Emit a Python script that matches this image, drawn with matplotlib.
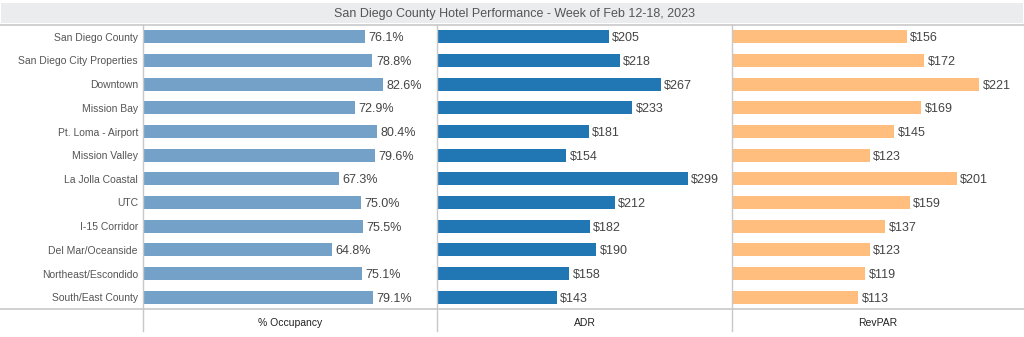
import numpy as np
import matplotlib
matplotlib.use("Agg")
import matplotlib.pyplot as plt
from matplotlib.lines import Line2D
from matplotlib.patches import Rectangle

plt.rcParams["font.family"] = ["Liberation Sans", "DejaVu Sans"]

regions = ["San Diego County", "San Diego City Properties", "Downtown", "Mission Bay",
           "Pt. Loma - Airport", "Mission Valley", "La Jolla Coastal", "UTC",
           "I-15 Corridor", "Del Mar/Oceanside", "Northeast/Escondido", "South/East County"]
occupancy = [76.1, 78.8, 82.6, 72.9, 80.4, 79.6, 67.3, 75.0, 75.5, 64.8, 75.1, 79.1]
adr = [205, 218, 267, 233, 181, 154, 299, 212, 182, 190, 158, 143]
revpar = [156, 172, 221, 169, 145, 123, 201, 159, 137, 123, 119, 113]

W, H = 1024, 337
fig = plt.figure(figsize=(W / 100, H / 100), dpi=100)

def fx(px): return px / W
def fy(py): return 1 - py / H

top, bot = 25, 309
panels = [
    (143, 437, occupancy, 101, "#74a1c8", lambda v: f"{v:.1f}%", "% Occupancy"),
    (437, 732, adr, 352, "#2077b4", lambda v: f"${v}", "ADR"),
    (732, 1024, revpar, 261, "#ffbe7d", lambda v: f"${v}", "RevPAR"),
]

y = np.arange(len(regions))
for x0, x1, vals, vmax, col, fmt, head in panels:
    ax = fig.add_axes([fx(x0), fy(bot), fx(x1 - x0), (bot - top) / H])
    ax.barh(y, vals, height=0.54, color=col)
    for yi, v in zip(y, vals):
        ax.annotate(fmt(v), (v, yi), xytext=(2.5, 0), textcoords="offset points",
                    va="center_baseline", ha="left", fontsize=9, color="#444444")
    ax.set_xlim(0, vmax)
    ax.set_ylim(len(regions) - 0.5, -0.5)
    ax.axis("off")
    fig.text(fx((x0 + x1) / 2), fy(322), head, ha="center", va="center_baseline",
             fontsize=7.5, color="#222222")

for yi, name in zip(y, regions):
    yp = top + (yi + 0.5) * (bot - top) / len(regions)
    fig.text(fx(138), fy(yp), name, ha="right", va="center_baseline", fontsize=7.5,
             color="#555555")

# title band
fig.add_artist(Rectangle((fx(1), fy(23)), fx(1022), 20 / H, transform=fig.transFigure,
                         color="#ebecee", lw=0))
fig.text(fx(515), fy(13), "San Diego County Hotel Performance - Week of Feb 12-18, 2023",
         ha="center", va="center_baseline", fontsize=9, color="#555555")

lc = "#c8c8c8"
for yy in (top, bot):
    fig.add_artist(Line2D([0, 1], [fy(yy), fy(yy)], color=lc, lw=1.2))
for xx in (143, 437, 732):
    fig.add_artist(Line2D([fx(xx), fx(xx)], [fy(top), fy(331)], color=lc, lw=1.0))

fig.savefig("out.png", dpi=100)
